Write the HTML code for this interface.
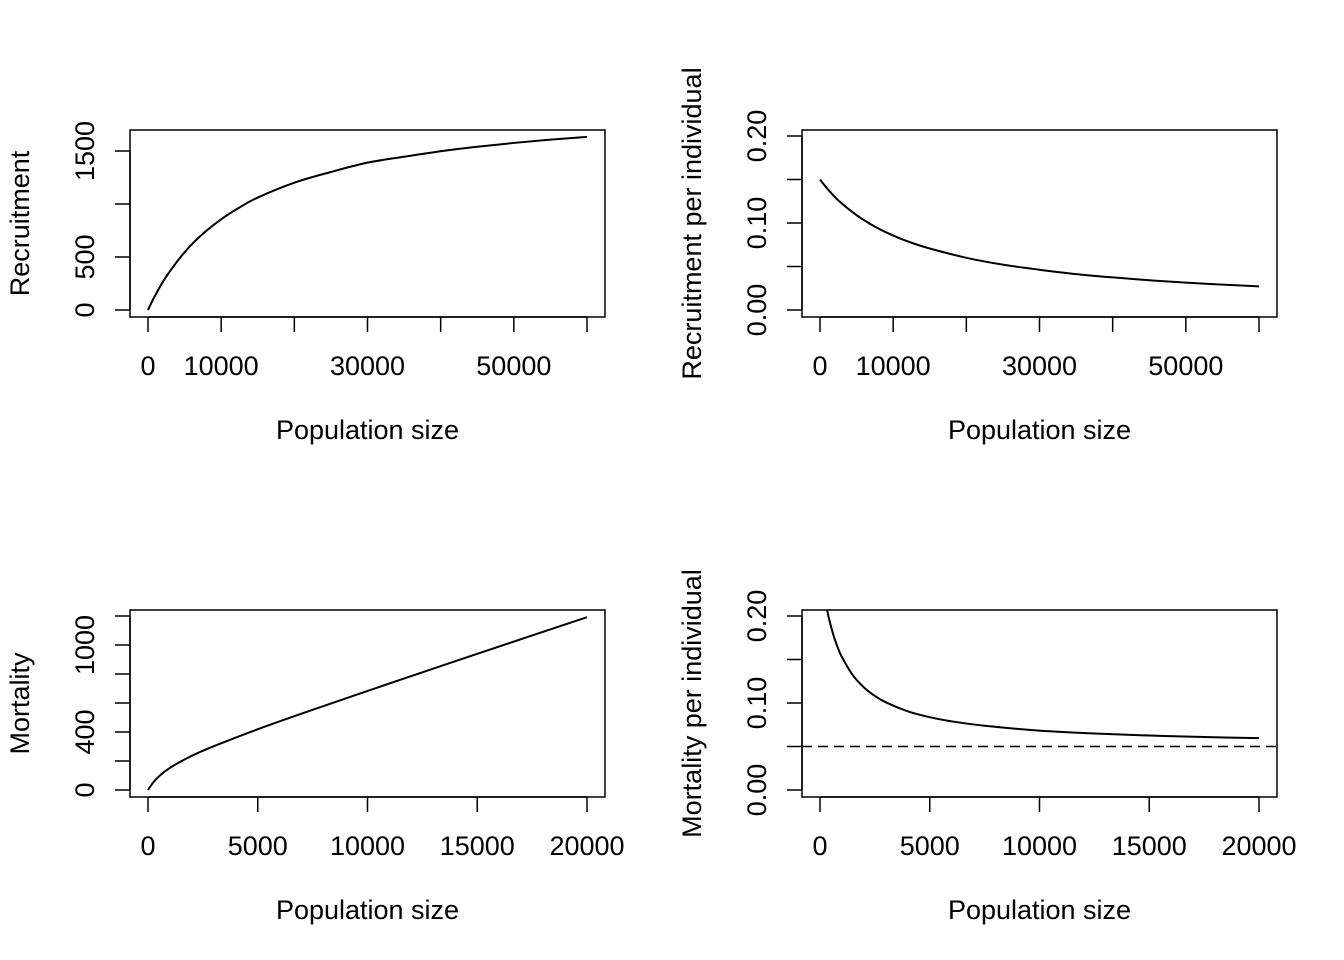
<!DOCTYPE html>
<html><head><meta charset="utf-8"><style>
html,body{margin:0;padding:0;background:#fff;}
svg{display:block;font-family:"Liberation Sans",Arial,sans-serif;}
</style></head><body>
<svg id="chart" width="1344" height="960" viewBox="0 0 1344 960"></svg>
<script>
// Panel 1: Recruitment
const recN = [0, 1000, 2500, 5000, 7500, 10000, 12500, 15000, 20000, 25000, 30000, 35000, 40000, 45000, 50000, 55000, 60000];
const recVals = [0, 140, 316, 545, 719, 856, 967, 1061, 1201, 1302, 1390, 1446, 1498, 1540, 1576, 1607, 1633];
// Panel 2: Recruitment per individual
const recPerN = [0, 1000, 2500, 5000, 7500, 10000, 12500, 15000, 20000, 25000, 30000, 35000, 40000, 45000, 50000, 55000, 60000];
const recPerVals = [0.150, 0.1395, 0.126, 0.109, 0.0959, 0.0856, 0.0773, 0.0707, 0.060, 0.0521, 0.0463, 0.0413, 0.0375, 0.0342, 0.0315, 0.0292, 0.0272];
// Panel 3: Mortality
const morN = [0, 250, 500, 1000, 2000, 3000, 5000, 7500, 10000, 12500, 15000, 17500, 20000];
const morVals = [0, 54, 94, 153, 236, 302, 419, 553, 683, 812, 939, 1066, 1192];
// Panel 4: Mortality per individual
const morPerN = [200, 300, 400, 600, 800, 1000, 1500, 2000, 2500, 3000, 4000, 5000, 6000, 7500, 10000, 12500, 15000, 17500, 20000];
const morPerVals = [0.2236, 0.2098, 0.198, 0.179, 0.1643, 0.1527, 0.1318, 0.118, 0.1081, 0.1008, 0.0905, 0.0837, 0.0789, 0.0738, 0.0683, 0.0649, 0.0626, 0.0609, 0.0596];
const morPerRef = [0.05];

const xTicks1 = [0, 10000, 20000, 30000, 40000, 50000, 60000];
const xLabels1 = ["0", "10000", "", "30000", "", "50000", ""];
const yTicks1 = [0, 500, 1000, 1500];
const yLabels1 = ["0", "500", "", "1500"];
const yTicks2 = [0, 0.05, 0.10, 0.15, 0.20];
const yLabels2 = ["0.00", "", "0.10", "", "0.20"];
const xTicks3 = [0, 5000, 10000, 15000, 20000];
const xLabels3 = ["0", "5000", "10000", "15000", "20000"];
const yTicks3 = [0, 200, 400, 600, 800, 1000, 1200];
const yLabels3 = ["0", "", "400", "", "", "1000", ""];

const NS = "http://www.w3.org/2000/svg";
const svg = document.getElementById('chart');
function mk(tag, attrs, parent) {
  const e = document.createElementNS(NS, tag);
  for (const k in attrs) e.setAttribute(k, attrs[k]);
  (parent || svg).appendChild(e);
  return e;
}
function smoothPath(pts) {
  let d = "M" + pts[0][0].toFixed(2) + "," + pts[0][1].toFixed(2);
  for (let i = 0; i < pts.length - 1; i++) {
    const p0 = pts[Math.max(0, i - 1)], p1 = pts[i], p2 = pts[i + 1], p3 = pts[Math.min(pts.length - 1, i + 2)];
    const c1x = p1[0] + (p2[0] - p0[0]) / 6, c1y = p1[1] + (p2[1] - p0[1]) / 6;
    const c2x = p2[0] - (p3[0] - p1[0]) / 6, c2y = p2[1] - (p3[1] - p1[1]) / 6;
    d += " C" + c1x.toFixed(2) + "," + c1y.toFixed(2) + " " + c2x.toFixed(2) + "," + c2y.toFixed(2) + " " + p2[0].toFixed(2) + "," + p2[1].toFixed(2);
  }
  return d;
}

function panel(o) {
  const g = mk('g', {});
  
  
  const sx = v => o.px0 + (v - o.x0) / (o.x1 - o.x0) * (o.px1 - o.px0);
  const sy = v => o.py0 + (v - o.y0) / (o.y1 - o.y0) * (o.py1 - o.py0);
  const clipId = 'clip-' + o.name;
  const cp = mk('clipPath', {id: clipId}, g);
  mk('rect', {x: o.bx0, y: o.by0, width: o.bx1 - o.bx0, height: o.by1 - o.by0}, cp);
  const box = mk('rect', {x: o.bx0, y: o.by0, width: o.bx1 - o.bx0, height: o.by1 - o.by0, fill: 'none', stroke: '#000', 'stroke-width': 1.5}, g);
  
  
  const xa = mk('g', {}, g);
  
  
  mk('line', {x1: sx(o.xTicks[0]), x2: sx(o.xTicks[o.xTicks.length - 1]), y1: o.by1, y2: o.by1, stroke: '#000', 'stroke-width': 1.5}, xa);
  o.xTicks.forEach((t, i) => {
    mk('line', {x1: sx(t), x2: sx(t), y1: o.by1, y2: o.by1 + 15, stroke: '#000', 'stroke-width': 1.5}, xa);
    if (o.xLabels[i]) {
      const tx = mk('text', {x: sx(t), y: o.by1 + 58, 'text-anchor': 'middle', 'font-size': 27}, xa);
      tx.textContent = o.xLabels[i];
      
      
    }
  });
  const xt = mk('text', {x: (o.bx0 + o.bx1) / 2, y: o.by1 + 122, 'text-anchor': 'middle', 'font-size': 27}, g);
  xt.textContent = 'Population size';
  
  
  const ya = mk('g', {}, g);
  
  
  mk('line', {x1: o.bx0, x2: o.bx0, y1: sy(o.yTicks[0]), y2: sy(o.yTicks[o.yTicks.length - 1]), stroke: '#000', 'stroke-width': 1.5}, ya);
  o.yTicks.forEach((t, i) => {
    mk('line', {x1: o.bx0 - 15, x2: o.bx0, y1: sy(t), y2: sy(t), stroke: '#000', 'stroke-width': 1.5}, ya);
    if (o.yLabels[i]) {
      const lx = o.bx0 - 36, ly = sy(t);
      const tx = mk('text', {x: lx, y: ly, 'text-anchor': 'middle', 'font-size': 27, transform: 'rotate(-90 ' + lx + ' ' + ly + ')'}, ya);
      tx.textContent = o.yLabels[i];
      
      
    }
  });
  const tyx = o.bx0 - 101, tyy = (o.by0 + o.by1) / 2;
  const yt = mk('text', {x: tyx, y: tyy, 'text-anchor': 'middle', 'font-size': 27, transform: 'rotate(-90 ' + tyx + ' ' + tyy + ')'}, g);
  yt.textContent = o.ylab;
  
  
  if (o.ref) {
    o.ref.forEach(r => {
      const rl = mk('line', {x1: o.bx0, x2: o.bx1, y1: sy(r), y2: sy(r), stroke: '#000', 'stroke-width': 1.5, 'stroke-dasharray': '10,6'}, g);
      
      
    });
  }
  const pts = o.xs.map((x, i) => [sx(x), sy(o.ys[i])]);
  const path = mk('path', {d: smoothPath(pts), fill: 'none', stroke: '#000', 'stroke-width': 2, 'clip-path': 'url(#' + clipId + ')'}, g);
  
  
}

panel({name: 'recruitment-panel', bx0: 130, bx1: 605, by0: 130, by1: 317,
  x0: 0, x1: 60000, px0: 148, px1: 587, y0: 0, y1: 1500, py0: 310, py1: 151,
  xTicks: xTicks1, xLabels: xLabels1, yTicks: yTicks1, yLabels: yLabels1,
  ylab: 'Recruitment', xs: recN, ys: recVals});
panel({name: 'recruitment-per-individual-panel', bx0: 802, bx1: 1277, by0: 130, by1: 317,
  x0: 0, x1: 60000, px0: 820, px1: 1259, y0: 0, y1: 0.2, py0: 310, py1: 136,
  xTicks: xTicks1, xLabels: xLabels1, yTicks: yTicks2, yLabels: yLabels2,
  ylab: 'Recruitment per individual', xs: recPerN, ys: recPerVals});
panel({name: 'mortality-panel', bx0: 130, bx1: 605, by0: 610, by1: 797,
  x0: 0, x1: 20000, px0: 148, px1: 587, y0: 0, y1: 1200, py0: 790, py1: 616,
  xTicks: xTicks3, xLabels: xLabels3, yTicks: yTicks3, yLabels: yLabels3,
  ylab: 'Mortality', xs: morN, ys: morVals});
panel({name: 'mortality-per-individual-panel', bx0: 802, bx1: 1277, by0: 610, by1: 797,
  x0: 0, x1: 20000, px0: 820, px1: 1259, y0: 0, y1: 0.2, py0: 790, py1: 616,
  xTicks: xTicks3, xLabels: xLabels3, yTicks: yTicks2, yLabels: yLabels2,
  ylab: 'Mortality per individual', xs: morPerN, ys: morPerVals, ref: morPerRef});
</script>
</body></html>
